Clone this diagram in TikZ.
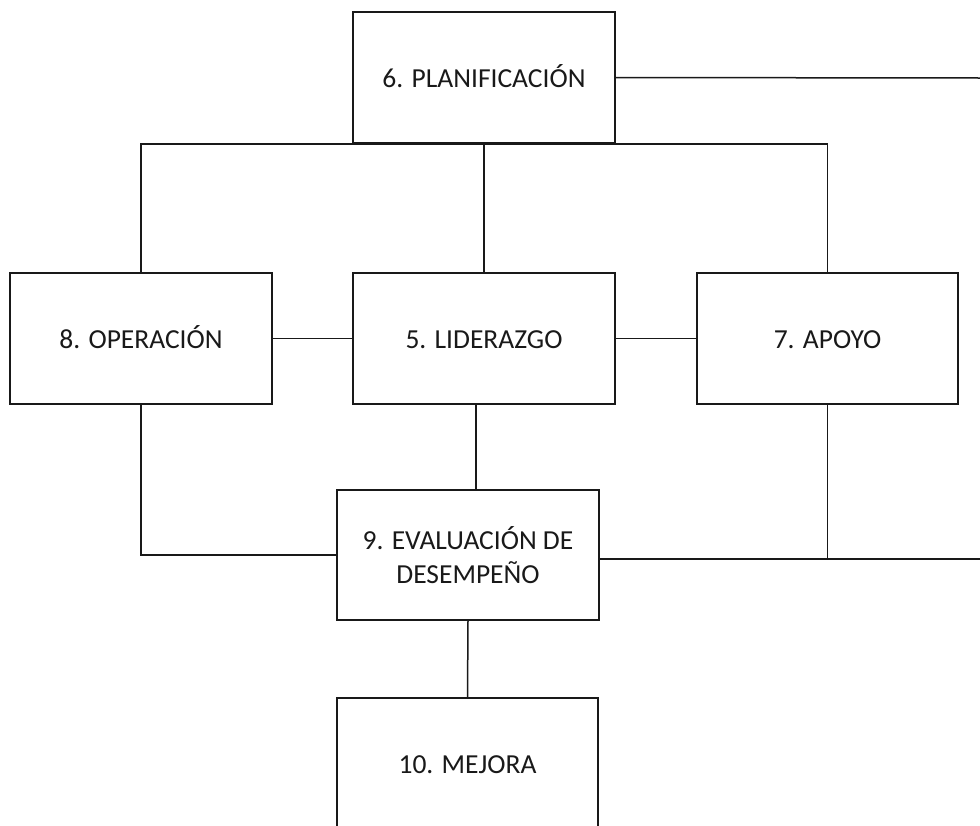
\documentclass[tikz,border=0pt]{standalone}
\usepackage{fontspec}
\setmainfont{Carlito}
\begin{document}
\begin{tikzpicture}[x=1pt,y=-1pt,
  line width=1.5pt,
  box/.style={draw=black!90, rectangle, inner sep=0pt, minimum width=262pt,
    minimum height=131pt, align=center,
    font=\fontsize{27.5}{33.5}\selectfont, text=black!90},
  oneline/.style={text height=23pt, text depth=4pt},
  link/.style={draw=black!90}]
\useasboundingbox (0,0) rectangle (980,825);
\clip (0,0) rectangle (980,825);

% boxes
\node[box, oneline] (plan) at (484,77.5) {6. PLANIFICACIÓN};
\node[box, oneline] (op)   at (141,338.5) {8. OPERACIÓN};
\node[box, oneline] (lid)  at (484,338.5) {5. LIDERAZGO};
\node[box, oneline, minimum width=261pt] (apo) at (827.5,338.5) {7. APOYO};
\node[box, minimum height=130pt] (eval) at (468,555) {9. EVALUACIÓN DE\\DESEMPEÑO};
\node[box, minimum width=261pt, minimum height=160pt] (mej) at (467.5,778) {};
\node[font=\fontsize{27.5}{33.5}\selectfont, text=black!90, oneline, inner sep=0pt] (mejt) at (467.5,763.5) {10. MEJORA};

% free ends at the right border
\coordinate (rA) at (980,78);
\coordinate (rB) at (980,559);

% planning links
\draw[link] (plan.east) -- (rA);
\draw[link] (op.north) |- (plan.south) -| (apo.north);
\draw[link] (plan.south) -- (lid.north);

% middle row
\draw[link] (op.east) -- (lid.west);
\draw[link] (lid.east) -- (apo.west);

% links to evaluation
\draw[link] (op.south) |- (eval.west);
\draw[link] ([xshift=-8pt]lid.south) -- ([xshift=-8pt]lid.south |- eval.north);
\draw[link] (eval.east |- rB) -- (rB);
\draw[link] (apo.south) -- (apo.south |- rB);

% improvement
\draw[link] (eval.south) -- (mej.north);
\end{tikzpicture}
\end{document}
